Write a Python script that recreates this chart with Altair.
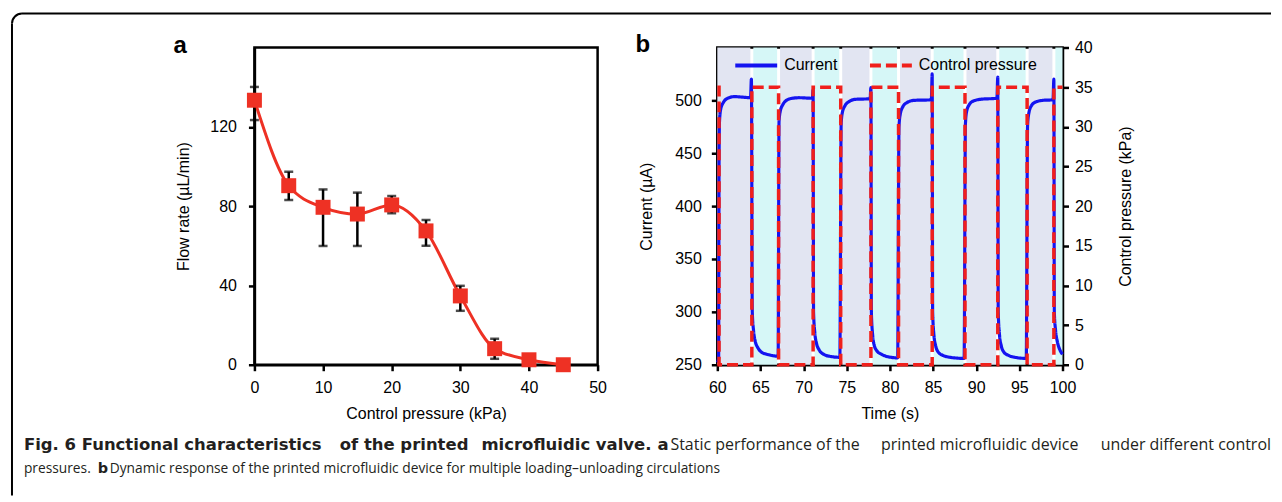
import math
import altair as alt
import pandas as pd

FONT = "Liberation Sans"
CAP_FONT = "Open Sans"
CAP_BOLD = "DejaVu Sans"

# ---------------- Panel a data ----------------
pressure_a = [0, 5, 10, 15, 20, 25, 30, 35, 40, 45]
flow_a = [133.4, 90.3, 79.4, 76.0, 80.6, 67.5, 34.7, 8.1, 2.5, 0.0]
err_p = [0, 5, 10, 15, 20, 25, 30, 35]
err_lo = [123.4, 83.1, 59.9, 59.9, 76.4, 60.0, 27.2, 3.0]
err_hi = [140.1, 97.3, 88.4, 86.8, 85.1, 73.0, 39.8, 13.1]

# ---------------- Panel b data ----------------
time_cur = [60.0, 60.15, 60.2, 60.25, 60.4, 60.7, 61.2, 62.0, 63.0, 63.85,
            63.95, 64.05, 64.2, 64.4, 64.7, 65.1, 65.7, 66.5, 67.05,
            67.15, 67.3, 67.6, 68.0, 68.7, 69.5, 71.0,
            71.1, 71.15, 71.3, 71.5, 71.8, 72.3, 73.0, 74.2,
            74.35, 74.5, 74.8, 75.3, 76.0, 77.7,
            77.8, 77.85, 78.0, 78.2, 78.5, 79.0, 79.8, 80.9,
            81.05, 81.2, 81.5, 82.0, 82.8, 84.8,
            84.9, 84.95, 85.1, 85.3, 85.6, 86.1, 87.0, 88.6,
            88.75, 88.9, 89.2, 89.7, 90.5, 92.4,
            92.5, 92.55, 92.7, 92.9, 93.2, 93.7, 94.5, 95.8,
            95.95, 96.1, 96.4, 96.9, 97.7, 98.9,
            99.0, 99.05, 99.2, 99.4, 99.7, 100.0]
current = [252, 256, 440, 480, 492, 498, 502, 503.5, 503, 502.5,
           520, 300, 282, 272, 266, 262, 260, 258.5, 258,
           480, 490, 496, 500, 502, 502.5, 502,
           510, 300, 280, 270, 264, 260, 258, 257,
           478, 489, 495, 499, 501, 501.5,
           512, 300, 278, 268, 263, 260, 257.5, 256.5,
           475, 487, 494, 498, 500, 500.5,
           525, 300, 278, 268, 262, 259, 257, 256,
           478, 490, 496, 499.5, 501, 502,
           522, 300, 278, 268, 262, 259, 257, 256,
           476, 488, 495, 498.5, 500, 500.5,
           520, 300, 282, 272, 264, 260]

time_p = [60.0, 60.2, 64.0, 67.1, 71.1, 74.3, 77.8, 81.0, 84.9, 88.7, 92.5, 95.9, 99.0, 100.0]
pressure_b = [35, 0, 35, 0, 35, 0, 35, 0, 35, 0, 35, 0, 35, 35]

unload_start = [60.0, 67.27, 74.47, 81.17, 88.87, 96.07]
unload_end = [63.83, 70.93, 77.63, 84.73, 92.33, 98.83]
load_start = [64.17, 71.27, 77.97, 85.07, 92.67, 99.17]
load_end = [66.93, 74.13, 80.83, 88.53, 95.73, 100.0]

legend_names = ["Current", "Control pressure"]

# caption pieces (line 1 is justified in the original, so it is set in a few chunks)
cap1_bold = ["Fig. 6 Functional characteristics", "of the printed", "microfluidic valve.", "a"]
cap1_reg = ["Static performance of the", "printed microfluidic device", "under different control"]
cap2_reg_a = "pressures."
cap2_bold = "b"
cap2_reg_b = "Dynamic response of the printed microfluidic device for multiple loading\u2013unloading circulations"

RED_A = "#ee3124"
BLUE = "#1414f0"
RED_B = "#f0201c"
LAV = "#e2e5f2"
CYAN = "#d6f7f7"
TXT = "#231f20"

WA, HA = 344, 318
WB, HB = 346, 318

# ---------------- Panel a ----------------
dfa = pd.DataFrame({"p": pressure_a, "flow": flow_a})
dferr = pd.DataFrame({"p": err_p, "lo": err_lo, "hi": err_hi})

xa = alt.X("p:Q", scale=alt.Scale(domain=[0, 50], nice=False),
           axis=alt.Axis(values=list(range(0, 51, 5)), title="Control pressure (kPa)"))
ya = alt.Y("flow:Q", scale=alt.Scale(domain=[0, 160], nice=False),
           axis=alt.Axis(values=[0, 40, 80, 120], title="Flow rate (\u00b5L/min)",
                         labelPadding=12, titlePadding=18))

line_a = alt.Chart(dfa).mark_line(color=RED_A, strokeWidth=3, interpolate="monotone").encode(x=xa, y=ya)
bars_a = alt.Chart(dferr).mark_rule(color="black", strokeWidth=2.5).encode(
    x=alt.X("p:Q"), y=alt.Y("lo:Q"), y2="hi:Q")
caps_a = alt.Chart(dferr).transform_fold(["lo", "hi"], as_=["end", "val"]).mark_tick(
    orient="horizontal", color="black", size=9, thickness=2.5).encode(
    x=alt.X("p:Q"), y=alt.Y("val:Q"))
pts_a = alt.Chart(dfa).mark_square(size=225, color=RED_A, opacity=1).encode(x="p:Q", y="flow:Q")

one = pd.DataFrame({"k": [0]})
# outer frame of the figure (rounded top-left corner), positioned relative to panel a
OX, OY = -243, -34
frame_top = alt.Chart(one).mark_rule(color="black", strokeWidth=2).encode(
    x=alt.value(OX + 10), x2=alt.value(1019), y=alt.value(OY))
frame_left = alt.Chart(one).mark_rule(color="black", strokeWidth=2).encode(
    x=alt.value(OX), y=alt.value(OY + 10), y2=alt.value(449))
frame_corner = alt.Chart(one).mark_arc(theta=1.5 * math.pi, theta2=2 * math.pi,
                                       innerRadius=9, outerRadius=11, color="black").encode(
    x=alt.value(OX + 10), y=alt.value(OY + 10))

letter_a = alt.Chart(one).mark_text(text="a", font=FONT, fontSize=24, fontWeight="bold",
                                    align="left", baseline="alphabetic", color="black").encode(
    x=alt.value(-81), y=alt.value(6))


def cap(text, x, y, size, bold=False, align="left"):
    return alt.Chart(one).mark_text(
        text=text, font=CAP_BOLD if bold else CAP_FONT, fontSize=size,
        fontWeight="bold" if bold else "normal",
        align=align, baseline="alphabetic", color=TXT).encode(x=alt.value(x), y=alt.value(y))


Y1, Y2 = 403, 427
caps = [
    cap(cap1_bold[0], -231, Y1, 16.5, True),
    cap(cap1_bold[1], 150, Y1, 16.5, True, "center"),
    cap(cap1_bold[2], 398, Y1, 16.5, True, "right"),
    cap(cap1_bold[3], 404, Y1, 16.5, True),
    cap(cap1_reg[0], 417, Y1, 16),
    cap(cap1_reg[1], 727, Y1, 16, align="center"),
    cap(cap1_reg[2], 1019, Y1, 16, align="right"),
    cap(cap2_reg_a, -231, Y2, 13.8),
    cap(cap2_bold, -157, Y2, 14.5, True),
    cap(cap2_reg_b, -145, Y2, 13.8),
]

panel_a = alt.layer(frame_top, frame_left, frame_corner, line_a, bars_a, caps_a, pts_a, letter_a,
                    *caps).properties(width=WA, height=HA)

# ---------------- Panel b ----------------
dfc = pd.DataFrame({"t": time_cur, "i": current, "series": "Current"})
dfp = pd.DataFrame({"t": time_p, "kpa": pressure_b, "series": "Control pressure"})
dflav = pd.DataFrame({"t": unload_start, "t2": unload_end})
dfcy = pd.DataFrame({"t": load_start, "t2": load_end})

xb = alt.X("t:Q", scale=alt.Scale(domain=[60, 100], nice=False),
           axis=alt.Axis(values=list(range(60, 101, 5)), title="Time (s)"))

leg = alt.Legend(orient="none", legendX=16, legendY=-5, direction="horizontal", title=None,
                 symbolType="stroke", symbolSize=1764, symbolStrokeWidth=4,
                 labelFont=FONT, labelFontSize=16, labelColor="black",
                 columnPadding=24, padding=0, labelOffset=5)
color = alt.Color("series:N", scale=alt.Scale(domain=legend_names, range=[BLUE, RED_B]), legend=leg)
dash = alt.StrokeDash("series:N", scale=alt.Scale(domain=legend_names, range=[[1, 0], [11, 5]]), legend=leg)

band_lav = alt.Chart(dflav).mark_rect(color=LAV).encode(x=xb, x2="t2:Q")
band_cy = alt.Chart(dfcy).mark_rect(color=CYAN).encode(x=xb, x2="t2:Q")

line_cur = alt.Chart(dfc).mark_line(strokeWidth=3.2, interpolate="monotone").encode(
    x=xb,
    y=alt.Y("i:Q", scale=alt.Scale(domain=[250, 550], nice=False),
            axis=alt.Axis(values=[250, 300, 350, 400, 450, 500], title="Current (\u00b5A)",
                          orient="left", labelPadding=10, titlePadding=20)),
    color=color, strokeDash=dash)
line_p = alt.Chart(dfp).mark_line(strokeWidth=3.5, interpolate="step-after").encode(
    x=xb,
    y=alt.Y("kpa:Q", scale=alt.Scale(domain=[0, 40], nice=False),
            axis=alt.Axis(values=list(range(0, 41, 5)), title="Control pressure (kPa)",
                          orient="right", labelPadding=6, titlePadding=25,
                          titleAngle=270, titleBaseline="top")),
    color=color, strokeDash=dash)
letter_b = alt.Chart(one).mark_text(text="b", font=FONT, fontSize=24, fontWeight="bold",
                                    align="left", baseline="alphabetic", color="black").encode(
    x=alt.value(-82), y=alt.value(5))

panel_b = alt.layer(band_lav, band_cy, line_cur, line_p, letter_b).resolve_scale(
    y="independent").properties(width=WB, height=HB)

chart = alt.hconcat(panel_a, panel_b, spacing=120, bounds="flush").resolve_scale(
    color="independent", strokeDash="independent"
).properties(
    padding={"left": 1, "top": 2, "right": 0, "bottom": 0}
).configure_view(
    stroke="black", strokeWidth=2.5
).configure_axis(
    domainColor="black", domainWidth=2.5, tickColor="black", tickWidth=2.5, tickSize=6,
    labelFont=FONT, labelFontSize=16, labelColor="black", labelFlush=False, labelOverlap=False,
    titleFont=FONT, titleFontSize=16, titleFontWeight="normal", titleColor="black",
    grid=False
).configure_axisX(labelPadding=9, titlePadding=10)

chart.save("out.html", embed_options={"renderer": "svg", "actions": False})
